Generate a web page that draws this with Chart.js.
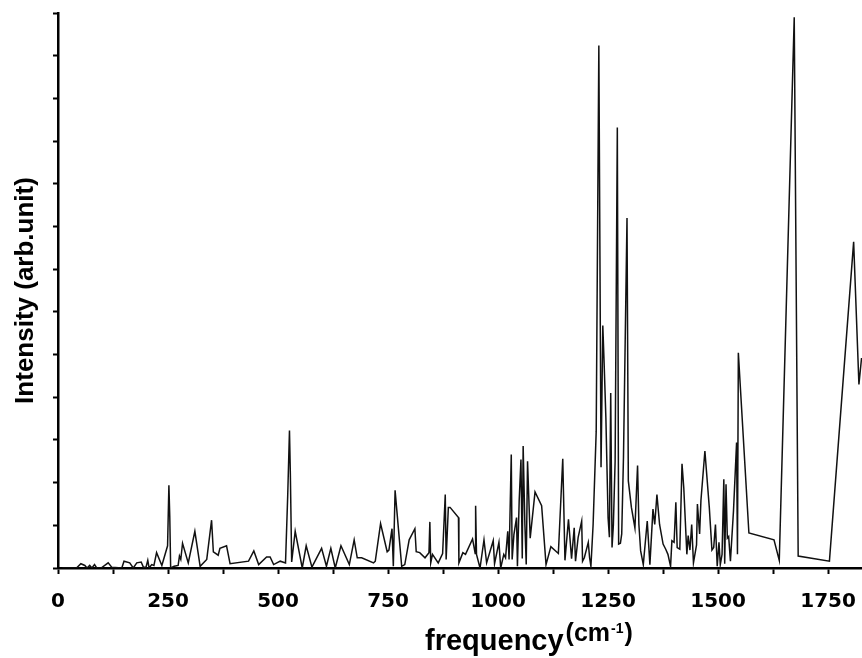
<!DOCTYPE html>
<html>
<head>
<meta charset="utf-8">
<script src="https://cdn.jsdelivr.net/npm/chart.js@4.4.1/dist/chart.umd.min.js"></script>
<style>
  html, body { margin: 0; padding: 0; background: #fff; }
  #c { display: block; }
</style>
</head>
<body>
<canvas id="c" width="862" height="658"></canvas>
<script>
// ---- data ----
const frequency = [
  10, 42, 52, 61, 66, 72, 77, 83, 88, 98, 114, 122, 145, 150, 163, 171, 179, 189, 194, 200,
  204, 207, 213, 218, 224, 236, 249, 252, 254, 256, 264, 273, 276, 279, 283, 296, 311, 323, 338, 349,
  353, 364, 368, 383, 391, 433, 445, 456, 474, 482, 490, 505, 517, 522, 526, 528, 531, 539, 555, 564,
  577, 599, 610, 620, 630, 643, 662, 673, 680, 690, 717, 721, 733, 748, 752, 759, 762, 766, 769, 781,
  788, 798, 811, 814, 822, 834, 843, 845, 847, 851, 864, 874, 880, 882, 887, 891, 910, 911, 920, 926,
  942, 948, 949, 951, 959, 968, 974, 989, 992, 1002, 1006, 1013, 1017, 1022, 1025, 1030, 1032, 1036, 1042, 1044,
  1048, 1052, 1055, 1057, 1061, 1064, 1067, 1073, 1084, 1099, 1109, 1120, 1137, 1147, 1152, 1160, 1167, 1173, 1176, 1182,
  1190, 1192, 1196, 1205, 1208, 1211, 1216, 1223, 1229, 1234, 1238, 1241, 1245, 1250, 1253, 1256, 1259, 1262, 1266, 1271,
  1274, 1278, 1281, 1285, 1289, 1293, 1296, 1303, 1311, 1317, 1320, 1324, 1330, 1339, 1345, 1352, 1356, 1361, 1367, 1375,
  1381, 1386, 1392, 1395, 1400, 1404, 1407, 1413, 1418, 1422, 1429, 1432, 1436, 1440, 1444, 1451, 1453, 1458, 1461, 1470,
  1480, 1486, 1490, 1494, 1498, 1502, 1505, 1509, 1513, 1515, 1518, 1521, 1524, 1528, 1535, 1542, 1544, 1546, 1570, 1627,
  1639, 1673, 1682, 1753, 1808, 1820, 1826
];
const intensity = [
  0.00, 0.00, 0.05, 0.03, 0.00, 0.03, 0.00, 0.04, 0.00, 0.00, 0.06, 0.01, 0.00, 0.08, 0.06, 0.00, 0.06, 0.07, 0.01, 0.01,
  0.09, 0.00, 0.04, 0.03, 0.18, 0.03, 0.26, 0.97, 0.60, 0.00, 0.02, 0.03, 0.14, 0.10, 0.29, 0.06, 0.43, 0.02, 0.10, 0.56,
  0.19, 0.15, 0.23, 0.26, 0.05, 0.08, 0.20, 0.04, 0.13, 0.13, 0.04, 0.08, 0.06, 0.85, 1.61, 1.10, 0.07, 0.43, 0.00, 0.26,
  0.01, 0.23, 0.02, 0.23, 0.00, 0.26, 0.04, 0.33, 0.12, 0.12, 0.06, 0.08, 0.52, 0.19, 0.21, 0.46, 0.02, 0.91, 0.73, 0.02,
  0.04, 0.33, 0.46, 0.19, 0.18, 0.12, 0.18, 0.54, 0.06, 0.16, 0.06, 0.17, 0.86, 0.10, 0.71, 0.71, 0.59, 0.06, 0.18, 0.16,
  0.34, 0.17, 0.73, 0.16, 0.00, 0.33, 0.06, 0.32, 0.05, 0.30, 0.00, 0.16, 0.12, 0.43, 0.10, 1.33, 0.10, 0.39, 0.59, 0.02,
  0.79, 1.27, 0.11, 1.43, 0.50, 0.04, 1.25, 0.35, 0.89, 0.73, 0.04, 0.25, 0.17, 1.28, 0.09, 0.57, 0.11, 0.47, 0.08, 0.36,
  0.55, 0.08, 0.12, 0.30, 0.12, 0.02, 0.51, 1.60, 6.12, 1.18, 2.84, 2.40, 1.76, 0.59, 0.36, 2.05, 0.24, 0.50, 1.25, 5.16,
  0.28, 0.29, 0.40, 1.30, 2.70, 4.10, 1.02, 0.71, 0.47, 1.20, 0.51, 0.20, 0.04, 0.55, 0.04, 0.69, 0.51, 0.86, 0.51, 0.28,
  0.22, 0.16, 0.02, 0.32, 0.30, 0.77, 0.24, 0.22, 1.22, 0.94, 0.16, 0.38, 0.21, 0.51, 0.06, 0.27, 0.75, 0.40, 0.79, 1.37,
  0.71, 0.21, 0.24, 0.51, 0.02, 0.30, 0.04, 0.16, 1.04, 0.05, 0.98, 0.35, 0.37, 0.08, 0.67, 1.47, 0.16, 2.52, 0.41, 0.33,
  0.09, 6.45, 0.14, 0.08, 3.82, 2.15, 2.46
];
const xTickLabels = ['0', '250', '500', '750', '1000', '1250', '1500', '1750'];
const xTitleMain = 'frequency';
const xTitleUnitOpen = '(cm';
const xTitleUnitExp = '-1';
const xTitleUnitClose = ')';
const yTitle = 'Intensity (arb.unit)';

const points = frequency.map((f, i) => ({ x: f, y: intensity[i] }));

const xTitlePlugin = {
  id: 'xTitlePlugin',
  afterDraw(chart) {
    const ctx = chart.ctx;
    ctx.save();
    ctx.fillStyle = '#000';
    ctx.textAlign = 'left';
    ctx.textBaseline = 'alphabetic';
    let x = 425;
    ctx.font = 'bold 29px "Liberation Sans", Arial, sans-serif';
    ctx.fillText(xTitleMain, x, 650);
    x += ctx.measureText(xTitleMain).width + 2;
    ctx.font = 'bold 25px "Liberation Sans", Arial, sans-serif';
    ctx.fillText(xTitleUnitOpen, x, 641);
    x += ctx.measureText(xTitleUnitOpen).width + 1;
    ctx.font = 'bold 14px "Liberation Sans", Arial, sans-serif';
    ctx.fillText(xTitleUnitExp, x, 633);
    x += ctx.measureText(xTitleUnitExp).width + 1;
    ctx.font = 'bold 25px "Liberation Sans", Arial, sans-serif';
    ctx.fillText(xTitleUnitClose, x, 641);
    ctx.restore();
  }
};

new Chart(document.getElementById('c'), {
  type: 'scatter',
  data: {
    datasets: [{
      data: points,
      showLine: true,
      borderColor: '#111',
      borderWidth: 1.5,
      pointRadius: 0,
      pointHoverRadius: 0,
      tension: 0,
      fill: false
    }]
  },
  options: {
    responsive: false,
    devicePixelRatio: 1,
    animation: false,
    events: [],
    layout: { padding: { top: 13, right: 0, bottom: 0, left: 0 } },
    plugins: { legend: { display: false }, tooltip: { enabled: false } },
    scales: {
      x: {
        type: 'linear',
        position: 'bottom',
        min: 0,
        max: 1827,
        border: { display: true, color: '#000', width: 2.5 },
        grid: { display: true, drawOnChartArea: false, drawTicks: true, tickLength: 6, tickWidth: 2, tickColor: '#000' },
        ticks: {
          stepSize: 125,
          autoSkip: false,
          includeBounds: false,
          maxRotation: 0,
          padding: 16,
          color: '#000',
          font: { family: '"DejaVu Sans", sans-serif', weight: 'bold', size: 20 },
          callback: (v) => {
            const s = String(v);
            return xTickLabels.includes(s) ? s : '';
          }
        },
        afterFit: (s) => { s.height = 90; s.paddingRight = 0; s.paddingLeft = 0; }
      },
      y: {
        type: 'linear',
        position: 'left',
        min: 0,
        max: 6.5,
        border: { display: true, color: '#000', width: 2.5 },
        grid: { display: true, drawOnChartArea: false, drawTicks: true, tickLength: 5, tickWidth: 2, tickColor: '#000' },
        ticks: { stepSize: 0.5, padding: 0, callback: () => '' },
        title: {
          display: true,
          text: yTitle,
          color: '#000',
          font: { family: '"Liberation Sans", Arial, sans-serif', weight: 'bold', size: 26 },
          padding: { top: 10, bottom: 0 }
        },
        afterFit: (s) => { s.width = 58; s.paddingTop = 0; s.paddingBottom = 0; }
      }
    }
  },
  plugins: [xTitlePlugin]
});
</script>
</body>
</html>
